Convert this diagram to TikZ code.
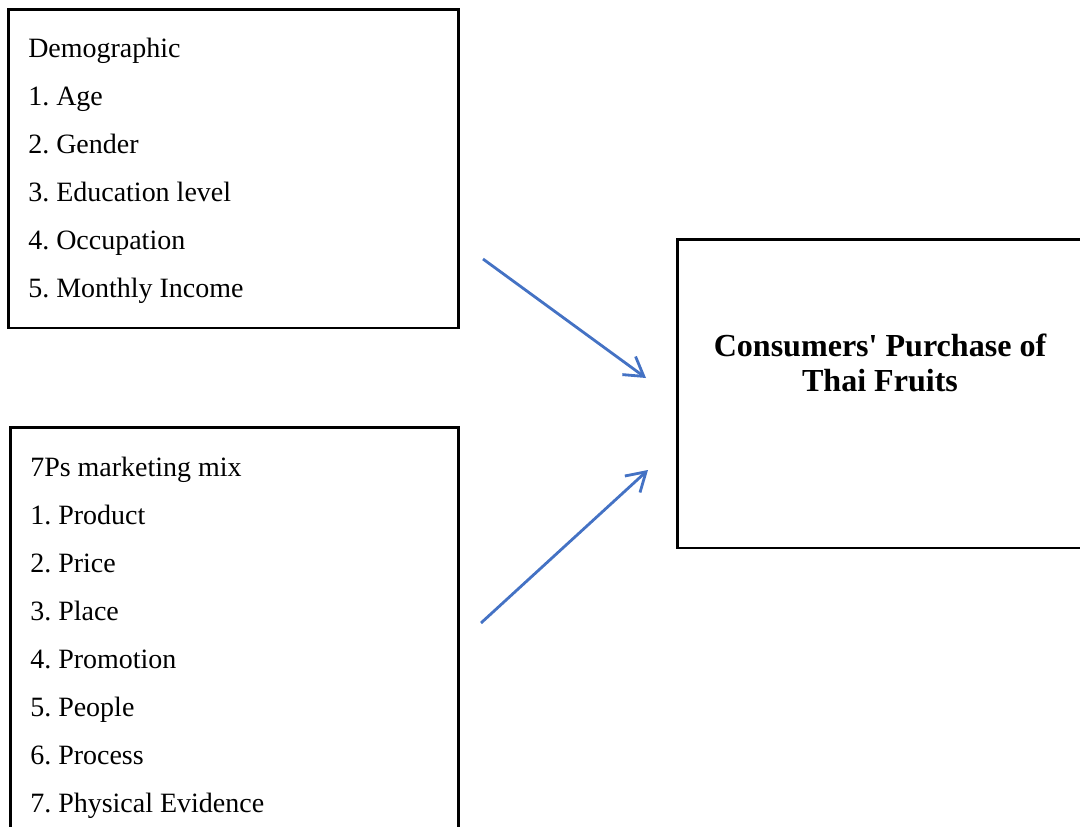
\documentclass[tikz,border=0pt]{standalone}
\usepackage{fontspec}
\setmainfont{Liberation Serif}
\usepackage{xcolor}
\usetikzlibrary{arrows.meta}
\definecolor{arrowblue}{RGB}{68,114,196}
\frenchspacing

\tikzset{
  box/.style={rectangle, draw, line width=2pt, inner sep=0pt},
  item/.style={anchor=base west, inner sep=0pt, font=\fontsize{19.9}{24}\selectfont},
  title/.style={anchor=base, inner sep=0pt, font=\fontsize{22.8}{26}\selectfont\bfseries},
  link/.style={arrowblue, line width=2pt, -{Straight Barb[length=4.6mm, width=5.6mm, line width=2pt]}}
}

\begin{document}
\begin{tikzpicture}[x=0.025cm, y=-0.025cm]
\useasboundingbox (0,0) rectangle (1080,827);
\clip (0,0) rectangle (1080,827);
% Boxes
\node[box, minimum width=11.24cm, minimum height=7.96cm] (demo) at (233.25,168.75) {};
\node[box, minimum width=11.19cm, minimum height=11.81cm] (mix) at (234.25,663.75) {};
\node[box, minimum width=11.06cm, minimum height=7.71cm] (buy) at (898.75,393.75) {};

% Box texts
\foreach \t [count=\i] in {Demographic, 1. Age, 2. Gender, 3. Education level, 4. Occupation, 5. Monthly Income}
  \node[item] (demo\i) at (28, 10+48*\i) {\t};
\foreach \t [count=\i] in {7Ps marketing mix, 1. Product, 2. Price, 3. Place, 4. Promotion, 5. People, 6. Process, 7. Physical Evidence}
  \node[item] (mix\i) at (30, 428+48*\i) {\t};
\node[title] (buy1) at (880,356) {Consumers\textquotesingle{} Purchase of};
\node[title] (buy2) at (880,391) {Thai Fruits};

% Arrows
\coordinate (demoout) at (483,259);
\coordinate (mixout) at (481,623);
\coordinate (buyin1) at (646,378);
\coordinate (buyin2) at (648,470);
\draw[link] (demoout) -- (buyin1);
\draw[link] (mixout) -- (buyin2);
\end{tikzpicture}
\end{document}
